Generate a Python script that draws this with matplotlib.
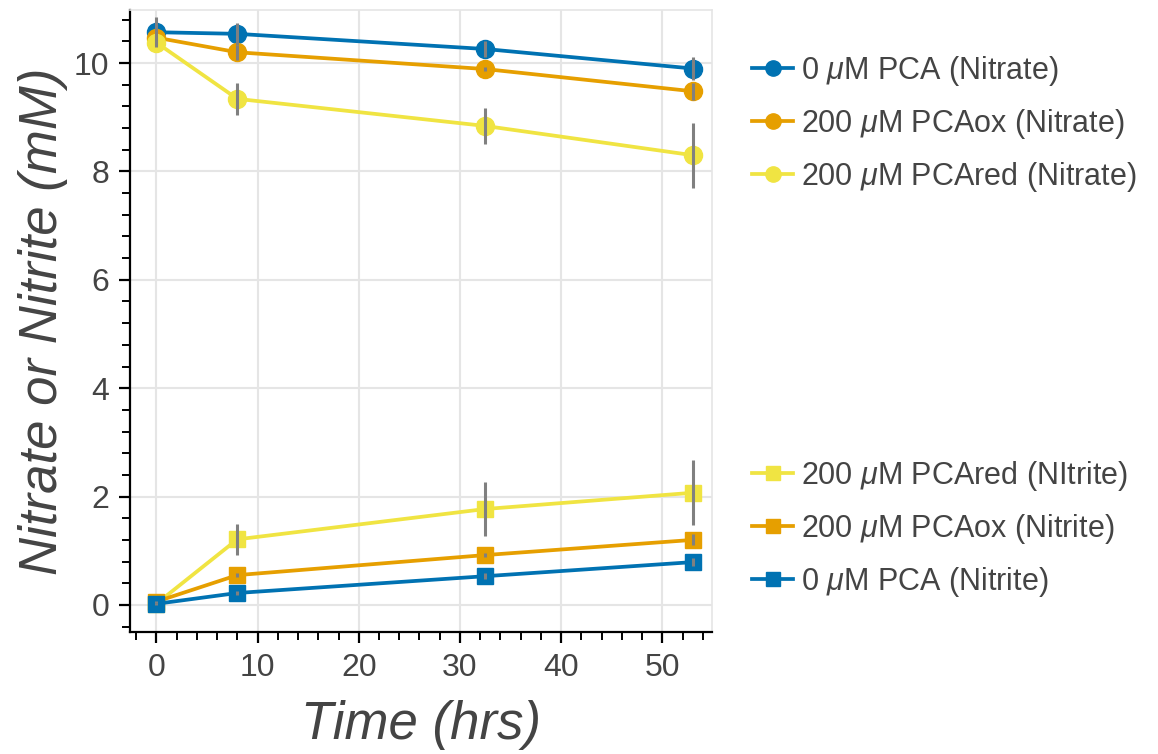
import numpy as np
import matplotlib
matplotlib.use("Agg")
import matplotlib.pyplot as plt
from matplotlib.ticker import MultipleLocator
from matplotlib.lines import Line2D

# sampling times (hrs)
time_hrs = [0, 8, 32.5, 53]

# nitrate, mM
nitrate_0 = [10.57, 10.54, 10.26, 9.90]
nitrate_0_err = [0.28, 0.20, 0.14, 0.22]
nitrate_ox = [10.47, 10.20, 9.89, 9.48]
nitrate_ox_err = [0.05, 0.14, 0.03, 0.16]
nitrate_red = [10.38, 9.34, 8.84, 8.30]
nitrate_red_err = [0.05, 0.29, 0.34, 0.60]

# nitrite, mM
nitrite_red = [0.02, 1.21, 1.77, 2.07]
nitrite_red_err = [0.02, 0.29, 0.50, 0.60]
nitrite_ox = [0.06, 0.55, 0.92, 1.20]
nitrite_ox_err = [0.02, 0.03, 0.04, 0.10]
nitrite_0 = [0.02, 0.22, 0.53, 0.79]
nitrite_0_err = [0.01, 0.03, 0.05, 0.08]

BLUE = "#0072B2"
ORANGE = "#E69F00"
YELLOW = "#F0E442"
TEXT = "#444444"

plt.rcParams["font.family"] = ["Liberation Sans", "DejaVu Sans"]
plt.rcParams["mathtext.fontset"] = "custom"
plt.rcParams["mathtext.it"] = "Liberation Sans:italic"
plt.rcParams["mathtext.rm"] = "Liberation Sans"

fig = plt.figure(figsize=(11.58, 7.54), dpi=100)
ax = fig.add_axes([130 / 1158, 1 - 632 / 754, 582 / 1158, 622 / 754])

nitrate_series = [
    (nitrate_0, nitrate_0_err, BLUE, r"0 $\mu$M PCA (Nitrate)"),
    (nitrate_ox, nitrate_ox_err, ORANGE, r"200 $\mu$M PCAox (Nitrate)"),
    (nitrate_red, nitrate_red_err, YELLOW, r"200 $\mu$M PCAred (Nitrate)"),
]
nitrite_series = [
    (nitrite_red, nitrite_red_err, YELLOW, r"200 $\mu$M PCAred (NItrite)"),
    (nitrite_ox, nitrite_ox_err, ORANGE, r"200 $\mu$M PCAox (Nitrite)"),
    (nitrite_0, nitrite_0_err, BLUE, r"0 $\mu$M PCA (Nitrite)"),
]

handles_a = []
for vals, err, col, lab in nitrate_series:
    ax.plot(time_hrs, vals, color=col, lw=2.7, marker="o", ms=13,
            zorder=3)
    ax.errorbar(time_hrs, vals, yerr=err, fmt="none", ecolor="#808080",
                elinewidth=2.2, capsize=0, zorder=4)
    handles_a.append(Line2D([], [], color=col, lw=2.7, marker="o", ms=11,
                            label=lab))

handles_b = []
for vals, err, col, lab in nitrite_series:
    ax.plot(time_hrs, vals, color=col, lw=2.7, marker="s", ms=11,
            zorder=3)
    ax.errorbar(time_hrs, vals, yerr=err, fmt="none", ecolor="#808080",
                elinewidth=2.2, capsize=0, zorder=4)
    handles_b.append(Line2D([], [], color=col, lw=2.7, marker="s", ms=10,
                            label=lab))

ax.set_xlim(-2.6, 54.9)
ax.set_ylim(-0.5, 10.98)
ax.xaxis.set_major_locator(MultipleLocator(10))
ax.xaxis.set_minor_locator(MultipleLocator(2))
ax.yaxis.set_major_locator(MultipleLocator(2))
ax.yaxis.set_minor_locator(MultipleLocator(0.4))

ax.grid(True, which="major", color="#e5e5e5", lw=1.5, zorder=0)
ax.set_axisbelow(True)

for s in ["top", "right"]:
    ax.spines[s].set_color("#e5e5e5")
    ax.spines[s].set_linewidth(1.2)
for s in ["left", "bottom"]:
    ax.spines[s].set_color("black")
    ax.spines[s].set_linewidth(1.6)

ax.tick_params(which="major", direction="out", length=8, width=1.6,
               labelsize=23, labelcolor=TEXT, pad=7)
ax.tick_params(which="minor", direction="out", length=5.5, width=1.4)

ax.set_xlabel("Time (hrs)", fontsize=38, style="italic", color=TEXT,
              labelpad=12)
ax.set_ylabel("Nitrate or Nitrite (mM)", fontsize=38, style="italic",
              color=TEXT, labelpad=4)

leg_kw = dict(loc="upper left", frameon=False, fontsize=22,
              handlelength=1.35, handletextpad=0.25, labelspacing=0.62,
              borderpad=0, borderaxespad=0, labelcolor=TEXT)
leg1 = fig.legend(handles=handles_a, bbox_to_anchor=(752 / 1158, 1 - 54 / 754),
                  **leg_kw)
leg2 = fig.legend(handles=handles_b, bbox_to_anchor=(752 / 1158, 1 - 459 / 754),
                  **leg_kw)

fig.savefig("out.png", dpi=100)
